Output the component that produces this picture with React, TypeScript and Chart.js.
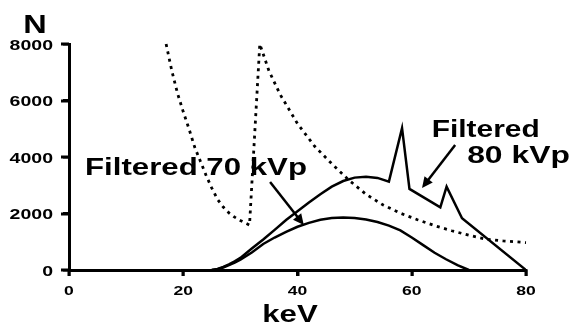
import React, { useEffect, useRef } from "react";
import { Chart, registerables } from "chart.js";

Chart.register(...registerables);

// ---- data (keV, counts N) ----
const iodineKeV = [17, 18, 19, 20, 21, 22, 23, 24, 25, 26, 27, 28, 29, 30, 31, 31.6, 33.4, 35, 37, 40, 43, 46, 49, 52, 55, 58, 61, 64, 67, 70, 73, 76, 80];
const iodineN = [8000, 7050, 6250, 5600, 5000, 4350, 3850, 3350, 2900, 2500, 2230, 2020, 1870, 1750, 1650, 1590, 8000, 7050, 6200, 5180, 4380, 3760, 3180, 2680, 2300, 2010, 1780, 1570, 1390, 1230, 1090, 1030, 970];

const kvp80KeV = [25, 26, 27, 28, 29, 30, 32, 34, 36, 38, 40, 42, 44, 46, 48, 50, 52, 54, 56, 58.3, 59.6, 65, 66.1, 68.8, 80];
const kvp80N = [0, 40, 110, 200, 310, 430, 760, 1080, 1420, 1770, 2080, 2390, 2680, 2950, 3150, 3270, 3300, 3260, 3130, 5020, 2870, 2220, 2950, 1830, 0];

const kvp70KeV = [25, 26, 27, 28, 29, 30, 32, 34, 36, 38, 40, 42, 44, 46, 48, 50, 52, 54, 56, 58, 60, 62, 64, 66, 68, 70];
const kvp70N = [0, 30, 90, 170, 260, 370, 620, 920, 1150, 1350, 1530, 1670, 1780, 1840, 1860, 1840, 1790, 1700, 1570, 1400, 1150, 880, 610, 380, 170, 0];

const xTicks = [0, 20, 40, 60, 80];
const yTicks = [0, 2000, 4000, 6000, 8000];
const xTickLabels = ["0", "20", "40", "60", "80"];
const yTickLabels = ["0", "2000", "4000", "6000", "8000"];

const xTitle = "keV";
const yTitle = "N";
const label70 = "Filtered 70 kVp";
const label80a = "Filtered";
const label80b = "80 kVp";

// annotation arrows in data units: [fromKeV, fromN, toKeV, toN]
const arrow70 = [35.2, 3115, 41.1, 1593];
const arrow80 = [67.6, 4425, 61.8, 2903];

const toXY = (xs: number[], ys: number[]) => xs.map((x, i) => ({ x, y: ys[i] }));

const FONT = '"Liberation Sans", Arial, sans-serif';
const STRETCH = 1.3;

function stretchedText(ctx: CanvasRenderingContext2D, text: string, x: number, y: number, size: number, align: "left" | "right" | "center", baseline: CanvasTextBaseline) {
  ctx.save();
  ctx.font = `bold ${size}px ${FONT}`;
  ctx.textBaseline = baseline;
  ctx.textAlign = "left";
  const w = ctx.measureText(text).width * STRETCH;
  let x0 = x;
  if (align === "right") x0 = x - w;
  else if (align === "center") x0 = x - w / 2;
  ctx.translate(x0, y);
  ctx.scale(STRETCH, 1);
  ctx.fillStyle = "#000";
  ctx.fillText(text, 0, 0);
  ctx.restore();
}

function drawArrow(ctx: CanvasRenderingContext2D, x1: number, y1: number, x2: number, y2: number) {
  const ang = Math.atan2(y2 - y1, x2 - x1);
  const head = 12;
  const spread = Math.PI / 7;
  ctx.save();
  ctx.strokeStyle = "#000";
  ctx.fillStyle = "#000";
  ctx.lineWidth = 2.5;
  ctx.setLineDash([]);
  ctx.beginPath();
  ctx.moveTo(x1, y1);
  ctx.lineTo(x2 - Math.cos(ang) * 4, y2 - Math.sin(ang) * 4);
  ctx.stroke();
  ctx.beginPath();
  ctx.moveTo(x2, y2);
  ctx.lineTo(x2 - head * Math.cos(ang - spread), y2 - head * Math.sin(ang - spread));
  ctx.lineTo(x2 - head * Math.cos(ang + spread), y2 - head * Math.sin(ang + spread));
  ctx.closePath();
  ctx.fill();
  ctx.restore();
}

const annotationPlugin = {
  id: "annotations",
  afterDraw(chart: any) {
    const ctx: CanvasRenderingContext2D = chart.ctx;
    const xs = chart.scales.x;
    const ys = chart.scales.y;
    const area = chart.chartArea;
    // tick marks
    ctx.save();
    ctx.fillStyle = "#000";
    xTicks.forEach((v) => {
      const px = Math.round(xs.getPixelForValue(v));
      ctx.fillRect(px - 1.5, area.bottom, 3, 6);
    });
    yTicks.forEach((v) => {
      const py = Math.round(ys.getPixelForValue(v));
      ctx.fillRect(area.left - 8, py - 1.5, 8, 3);
    });
    ctx.restore();
    // tick labels
    xTicks.forEach((v, i) => {
      stretchedText(ctx, xTickLabels[i], xs.getPixelForValue(v), area.bottom + 21, 13.5, "center", "middle");
    });
    yTicks.forEach((v, i) => {
      stretchedText(ctx, yTickLabels[i], area.left - 16, ys.getPixelForValue(v) + 1.5, 15, "right", "middle");
    });
    // axis titles
    stretchedText(ctx, xTitle, 290, area.bottom + 52, 24, "center", "alphabetic");
    stretchedText(ctx, yTitle, 35, 33, 25, "center", "alphabetic");
    // series labels
    stretchedText(ctx, label70, xs.getPixelForValue(2.8), ys.getPixelForValue(3350), 24, "left", "alphabetic");
    stretchedText(ctx, label80a, xs.getPixelForValue(63.5), ys.getPixelForValue(4700), 23, "left", "alphabetic");
    stretchedText(ctx, label80b, xs.getPixelForValue(69.7), ys.getPixelForValue(3770), 24.5, "left", "alphabetic");
    // arrows
    drawArrow(ctx, xs.getPixelForValue(arrow70[0]), ys.getPixelForValue(arrow70[1]), xs.getPixelForValue(arrow70[2]), ys.getPixelForValue(arrow70[3]));
    drawArrow(ctx, xs.getPixelForValue(arrow80[0]), ys.getPixelForValue(arrow80[1]), xs.getPixelForValue(arrow80[2]), ys.getPixelForValue(arrow80[3]));
  },
};

export default function App() {
  const ref = useRef<HTMLCanvasElement | null>(null);
  useEffect(() => {
    document.body.style.margin = "0";
    const canvas = ref.current;
    if (!canvas) return;
    const axisCommon = {
      type: "linear" as const,
      grid: { display: true, drawOnChartArea: false, drawTicks: true, tickLength: 6, color: "#000", lineWidth: 2.5 },
      border: { display: true, color: "#000", width: 3 },
    };
    const chart = new Chart(canvas, {
      type: "line",
      data: {
        datasets: [
          { data: toXY(iodineKeV, iodineN), borderColor: "#000", borderWidth: 2.8, borderDash: [3, 4.5], pointRadius: 0, tension: 0, fill: false, clip: false as any },
          { data: toXY(kvp80KeV, kvp80N), borderColor: "#000", borderWidth: 2.5, pointRadius: 0, tension: 0, fill: false },
          { data: toXY(kvp70KeV, kvp70N), borderColor: "#000", borderWidth: 2.5, pointRadius: 0, tension: 0, fill: false },
        ],
      },
      options: {
        animation: false,
        responsive: false,
        layout: { padding: { left: 63, right: 48, top: 44, bottom: 52 } },
        scales: {
          x: { ...axisCommon, min: 0, max: 80, ticks: { display: false, stepSize: 20 } },
          y: { ...axisCommon, min: 0, max: 8000, ticks: { display: false, stepSize: 2000 } },
        },
        plugins: { legend: { display: false }, tooltip: { enabled: false } },
        elements: { line: { borderJoinStyle: "miter" } },
      },
      plugins: [annotationPlugin],
    });
    return () => chart.destroy();
  }, []);
  return (
    <div style={{ width: 574, height: 328, background: "#fff" }}>
      <canvas ref={ref} width={574} height={328} />
    </div>
  );
}
